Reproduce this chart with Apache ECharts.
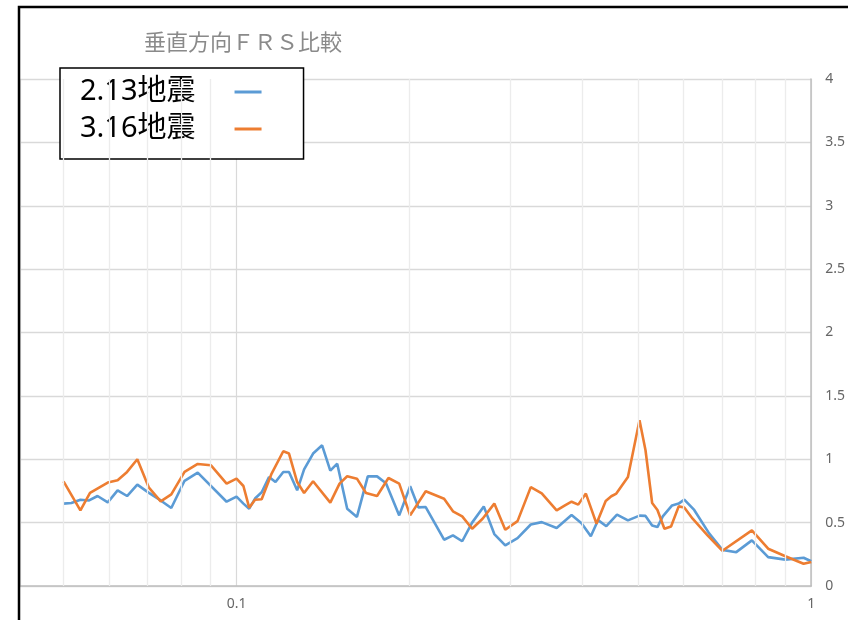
<!DOCTYPE html>
<html>
<head>
<meta charset="utf-8">
<script src="https://cdn.jsdelivr.net/npm/echarts@6/dist/echarts.min.js"></script>
<style>
  html, body { margin: 0; padding: 0; background: #fff; }
  #chart { width: 848px; height: 620px; }
</style>
</head>
<body>
<div id="chart"></div>
<script>
// Period axis (s) and floor response spectrum values for each event
const freqA = [0.050,0.0516,0.0535,0.0554,0.0573,0.0597,0.0621,0.0645,0.0672,0.0704,0.0738,0.0770,0.0812,0.0856,0.0961,0.100,0.1028,0.1052,0.1077,0.1106,0.1139,0.1169,0.1206,0.1234,0.1275,0.1311,0.1359,0.1409,0.1456,0.1497,0.1558,0.1620,0.1692,0.1756,0.1820,0.1919,0.2005,0.2073,0.2134,0.2297,0.2380,0.2470,0.2570,0.2693,0.2809,0.2935,0.3083,0.3251,0.3397,0.3606,0.3828,0.3984,0.4135,0.4258,0.4400,0.4592,0.4798,0.5026,0.5148,0.5287,0.5400,0.5517,0.5726,0.5880,0.6013,0.6257,0.6642,0.7006,0.7405,0.7883,0.8415,0.9016,0.9698,1.0];
const valuesA = [0.65,0.655,0.68,0.675,0.71,0.66,0.755,0.71,0.80,0.735,0.675,0.615,0.83,0.895,0.665,0.705,0.65,0.61,0.69,0.74,0.86,0.82,0.90,0.90,0.755,0.92,1.045,1.11,0.91,0.965,0.61,0.545,0.865,0.865,0.81,0.557,0.787,0.62,0.623,0.365,0.40,0.353,0.50,0.628,0.41,0.32,0.378,0.485,0.504,0.458,0.56,0.495,0.392,0.52,0.472,0.563,0.518,0.555,0.553,0.478,0.465,0.549,0.636,0.65,0.681,0.60,0.415,0.285,0.267,0.36,0.228,0.208,0.223,0.195];

const freqB = [0.050,0.0535,0.0556,0.0597,0.0621,0.0645,0.0672,0.0704,0.0738,0.0770,0.0812,0.0856,0.0902,0.0961,0.100,0.1028,0.1052,0.1077,0.1106,0.1151,0.1206,0.1234,0.1275,0.1311,0.1359,0.1456,0.1511,0.1558,0.1620,0.1680,0.1756,0.1838,0.1919,0.2005,0.2134,0.2297,0.2380,0.2470,0.2570,0.2680,0.2809,0.2935,0.3083,0.3251,0.3397,0.3606,0.3728,0.3828,0.3932,0.4054,0.4230,0.4389,0.4489,0.4580,0.4798,0.5026,0.5148,0.5287,0.5400,0.5553,0.5703,0.5880,0.6013,0.6218,0.6601,0.7006,0.7883,0.8415,0.9016,0.9698,1.0];
const valuesB = [0.826,0.597,0.734,0.816,0.834,0.90,1.0,0.776,0.668,0.723,0.90,0.963,0.953,0.808,0.847,0.789,0.618,0.681,0.684,0.887,1.063,1.045,0.82,0.734,0.826,0.658,0.808,0.866,0.847,0.734,0.71,0.852,0.808,0.557,0.747,0.689,0.589,0.549,0.452,0.531,0.65,0.444,0.512,0.78,0.73,0.597,0.636,0.665,0.642,0.729,0.492,0.67,0.708,0.729,0.86,1.308,1.071,0.655,0.60,0.452,0.47,0.628,0.62,0.531,0.40,0.278,0.439,0.294,0.235,0.175,0.19];

const seriesNames = ['2.13地震', '3.16地震'];
const titleText = '垂直方向ＦＲＳ比較';
// intermediate log-decade grid positions
const minorGrid = [0.05,0.06,0.07,0.08,0.09,0.2,0.3,0.4,0.5,0.6,0.7,0.8,0.9];

const chart = echarts.init(document.getElementById('chart'), null, { renderer: 'canvas' });

const pair = (xs, ys) => xs.map((x, i) => [x, ys[i]]);

chart.setOption({
  backgroundColor: '#fff',
  animation: false,
  title: {
    text: titleText,
    left: 139, top: 26,
    textStyle: { fontFamily: 'Noto Sans CJK JP', fontSize: 22, fontWeight: 'normal', color: '#8a8a8a' }
  },
  legend: {
    orient: 'vertical',
    left: 60, top: 68,
    align: 'right',
    padding: [9, 42, 15, 20],
    itemGap: 7,
    itemWidth: 27, itemHeight: 3,
    icon: 'rect',
    borderColor: '#000', borderWidth: 1.5,
    backgroundColor: '#fff',
    textStyle: { fontFamily: "'Noto Sans', 'Noto Sans CJK JP'", fontSize: 29, color: '#000', lineHeight: 30, padding: [0, 34, 0, 0] },
    data: seriesNames
  },
  grid: { left: 20, right: 32, top: 79, bottom: 34 },
  xAxis: {
    type: 'log', logBase: 10, min: 0.042, max: 1,
    axisLine: { show: true, lineStyle: { color: '#bfbfbf', width: 1.5 } },
    axisTick: { show: false },
    axisLabel: { showMinLabel: false, color: '#666', fontSize: 14, fontFamily: 'Noto Sans', margin: 11 },
    splitLine: { show: true, lineStyle: { color: '#d9d9d9', width: 1.2 } }
  },
  yAxis: {
    type: 'value', position: 'right', min: 0, max: 4, interval: 0.5,
    axisLine: { show: true, lineStyle: { color: '#bfbfbf', width: 1.5 } },
    axisTick: { show: false },
    axisLabel: { color: '#666', fontSize: 14, fontFamily: 'Noto Sans', margin: 14 },
    splitLine: { show: true, lineStyle: { color: '#d9d9d9', width: 1.3 } }
  },
  series: [
    {
      name: 'grid', type: 'line', data: [], silent: true, z: 1,
      markLine: {
        silent: true, symbol: 'none', animation: false,
        label: { show: false },
        lineStyle: { color: '#ececec', width: 1.3, type: 'solid' },
        emphasis: { disabled: true },
        data: minorGrid.map(v => ({ xAxis: v }))
      }
    },
    {
      name: seriesNames[0], type: 'line', data: pair(freqA, valuesA),
      showSymbol: false, symbol: 'none', z: 3,
      lineStyle: { color: '#5b9bd5', width: 2.6 }, itemStyle: { color: '#5b9bd5' }
    },
    {
      name: seriesNames[1], type: 'line', data: pair(freqB, valuesB),
      showSymbol: false, symbol: 'none', z: 4,
      lineStyle: { color: '#ed7d31', width: 2.6 }, itemStyle: { color: '#ed7d31' }
    }
  ],
  graphic: [
    {
      type: 'rect', z: 100, silent: true,
      shape: { x: 19, y: 7, width: 900, height: 700 },
      style: { fill: 'none', stroke: '#000', lineWidth: 2.5 }
    }
  ]
});
</script>
</body>
</html>
